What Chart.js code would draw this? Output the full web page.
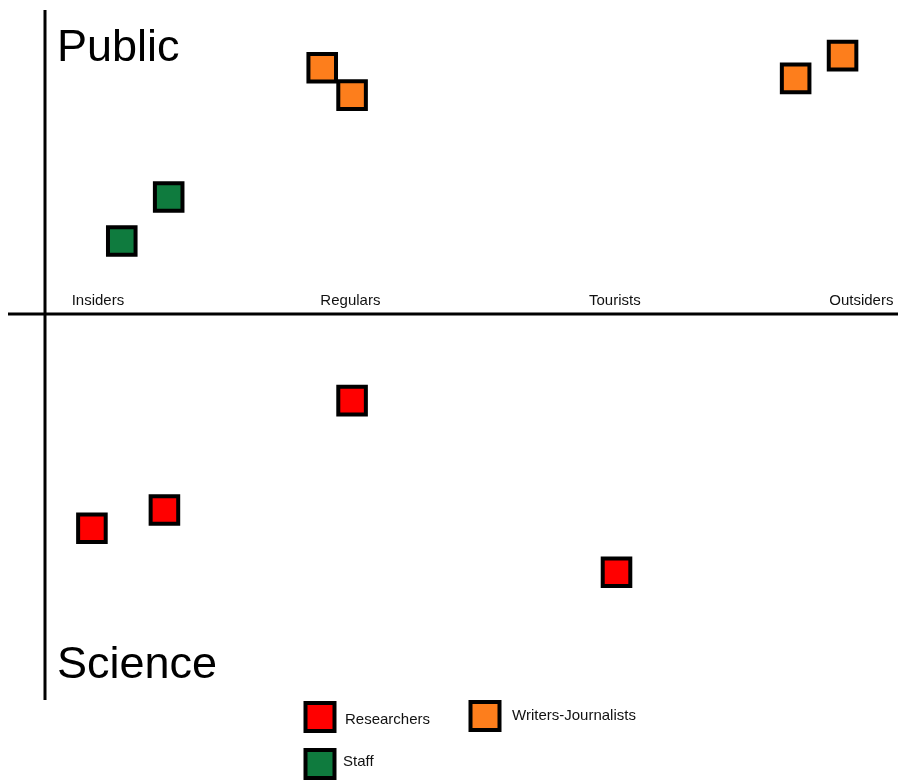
<!DOCTYPE html>
<html>
<head>
<meta charset="utf-8">
<script src="https://cdn.jsdelivr.net/npm/chart.js"></script>
<style>
  body { margin: 0; background: #fff; }
  #wrap { width: 898px; height: 782px; }
</style>
</head>
<body>
<div id="wrap"><canvas id="quadChart" width="898" height="782"></canvas></div>
<script>
// x: 0 = insider ... 100 = outsider, y: positive = public, negative = science
var categories = ['Insiders', 'Regulars', 'Tourists', 'Outsiders'];
var categoryPos = [6.2, 35.8, 66.8, 95.7];

var researchersX = [5.5, 14, 36, 67];
var researchersY = [-70.5, -64.5, -28.5, -85];
var writersX = [32.5, 36, 88, 93.5];
var writersY = [81, 72, 77.5, 85];
var staffX = [9, 14.5];
var staffY = [24, 38.5];

var FONT = "'Liberation Sans', Arial, Helvetica, sans-serif";
var INK = '#111';

function toPoints(xs, ys) {
    return xs.map(function (x, i) { return {x: x, y: ys[i]}; });
}

function squareSet(label, xs, ys, colour) {
    return {
        label: label,
        data: toPoints(xs, ys),
        pointStyle: 'rect',
        pointRadius: 19.5,
        pointHoverRadius: 19.5,
        borderWidth: 4,
        pointBorderWidth: 4,
        backgroundColor: colour,
        borderColor: '#000',
        clip: false
    };
}

// cross-shaped axes, quadrant words and category names
var quadrantAxes = {
    id: 'quadrantAxes',
    beforeDatasetsDraw: function (chart) {
        var ctx = chart.ctx, x = chart.scales.x, y = chart.scales.y, area = chart.chartArea;
        var x0 = x.getPixelForValue(0), y0 = y.getPixelForValue(0);
        ctx.save();
        ctx.strokeStyle = '#000';
        ctx.lineWidth = 3;
        ctx.beginPath();
        ctx.moveTo(x0, area.top);
        ctx.lineTo(x0, area.bottom);
        ctx.moveTo(8, y0);
        ctx.lineTo(chart.width, y0);
        ctx.stroke();

        ctx.fillStyle = INK;
        ctx.font = '15px ' + FONT;
        ctx.textAlign = 'center';
        ctx.textBaseline = 'alphabetic';
        categories.forEach(function (c, i) {
            ctx.fillText(c, x.getPixelForValue(categoryPos[i]), y0 - 9);
        });

        ctx.font = '45px ' + FONT;
        ctx.textAlign = 'left';
        ctx.fillStyle = '#000';
        ctx.fillText('Public', x0 + 12, area.top + 51);
        ctx.fillText('Science', x0 + 12, area.bottom - 22);
        ctx.restore();
    }
};

// legend: two items on the first row, one on the second
var squareLegend = {
    id: 'squareLegend',
    afterDraw: function (chart) {
        var ctx = chart.ctx;
        var slots = [[320, 717, 345, 720], [485, 716, 512, 716], [320, 764, 343, 762]];
        ctx.save();
        chart.data.datasets.forEach(function (ds, i) {
            var s = slots[i];
            ctx.fillStyle = ds.backgroundColor;
            ctx.strokeStyle = '#000';
            ctx.lineWidth = 4;
            ctx.beginPath();
            ctx.rect(s[0] - 14.5, s[1] - 14, 29, 28);
            ctx.fill();
            ctx.stroke();
            ctx.fillStyle = INK;
            ctx.font = '15px ' + FONT;
            ctx.textAlign = 'left';
            ctx.textBaseline = 'middle';
            ctx.fillText(ds.label, s[2], s[3]);
        });
        ctx.restore();
    }
};

var config = {
    type: 'scatter',
    data: {
        datasets: [
            squareSet('Researchers', researchersX, researchersY, '#ff0000'),
            squareSet('Writers-Journalists', writersX, writersY, '#fd7e1c'),
            squareSet('Staff', staffX, staffY, '#0f7b3e')
        ]
    },
    options: {
        responsive: false,
        animation: false,
        devicePixelRatio: 1,
        layout: {
            autoPadding: false,
            padding: {left: 45, right: 0, top: 10, bottom: 82}
        },
        scales: {
            x: {type: 'linear', min: 0, max: 100, display: false},
            y: {type: 'linear', min: -127, max: 100, display: false}
        },
        plugins: {
            legend: {display: false},
            tooltip: {enabled: false}
        }
    },
    plugins: [quadrantAxes, squareLegend]
};

var ctx = document.getElementById('quadChart').getContext('2d');
window.quadChart = new Chart(ctx, config);
</script>
</body>
</html>
